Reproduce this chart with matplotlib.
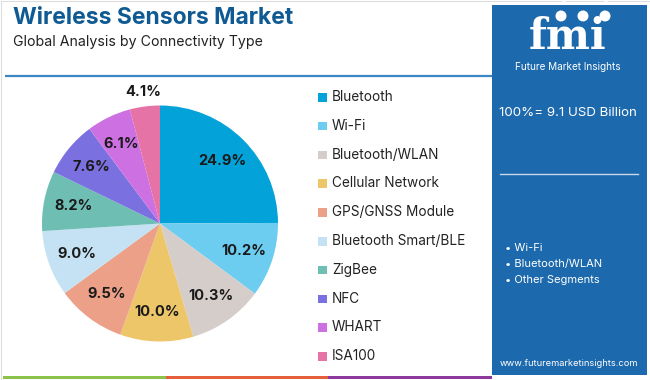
# -*- coding: utf-8 -*-
"""
Wireless Sensors Market - share by connectivity type (pie + side panel)
"""

import numpy as np
import matplotlib.pyplot as plt
from matplotlib.patches import Rectangle, Circle, Arc

# ============================================================
# DATA
# ============================================================

segments = [
    "Bluetooth",
    "Wi-Fi",
    "Bluetooth/WLAN",
    "Cellular Network",
    "GPS/GNSS Module",
    "Bluetooth Smart/BLE",
    "ZigBee",
    "NFC",
    "WHART",
    "ISA100",
]
shares = [24.9, 10.2, 10.3, 10.0, 9.5, 9.0, 8.2, 7.6, 6.1, 4.1]

total_text = "100%= 9.1 USD Billion"
highlights = ["Wi-Fi", "Bluetooth/WLAN", "Other Segments"]

title = "Wireless Sensors Market"
subtitle = "Global Analysis by Connectivity Type"

# ============================================================
# STYLE
# ============================================================

colours = [
    "#03a3da",  # Bluetooth
    "#6dcdf0",  # Wi-Fi
    "#d5cdca",  # Bluetooth/WLAN
    "#eec66a",  # Cellular Network
    "#eba087",  # GPS/GNSS Module
    "#c4e2f3",  # Bluetooth Smart/BLE
    "#6fbeb4",  # ZigBee
    "#7b70e0",  # NFC
    "#cd70e2",  # WHART
    "#e673a6",  # ISA100
]
title_colour = "#0f5a92"
panel_colour = "#1c69ad"
font = ["Inter", "DejaVu Sans"]
plt.rcParams["font.family"] = font

W, H = 650, 380
fig = plt.figure(figsize=(W / 100, H / 100), dpi=100)
fig.patch.set_facecolor("white")

# background axes in pixel coordinates (y downward)
bg = fig.add_axes([0, 0, 1, 1])
bg.set_xlim(0, W)
bg.set_ylim(H, 0)
bg.axis("off")

# outer frame
bg.add_patch(Rectangle((0.5, 0.5), W - 1, H - 1, fill=False,
                       edgecolor="#dddddd", linewidth=0.8))

# title block
bg.text(13, 18, title, fontsize=16.5, fontweight="bold", color=title_colour,
        va="center", ha="left")
bg.text(13, 42, subtitle, fontsize=10.2, color="#222222",
        va="center", ha="left")
bg.plot([5, 492], [75.5, 75.5], color="#3d88c4", linewidth=1.6,
        solid_capstyle="butt")

# bottom colour strip
for x0, x1, c in [(3, 166, "#8bc34a"), (166, 328, "#e5603a"),
                  (328, 492, "#8d3a9c")]:
    bg.add_patch(Rectangle((x0, 375.5), x1 - x0, 3.5, color=c, linewidth=0))

# right panel
bg.add_patch(Rectangle((492, 5), 155, 370, color=panel_colour, linewidth=0))

# fmi logo
bg.text(568, 37, "fmi", fontsize=30, fontweight="bold", color="white",
        family="DejaVu Serif", ha="center", va="center")
for yy in np.arange(22, 58, 3.0):
    bg.plot([515, 622], [yy, yy], color=panel_colour, linewidth=0.8)
for cx in [561, 583, 605]:
    bg.add_patch(Circle((cx, 16), 5.5, color="white", linewidth=0))
bg.add_patch(Arc((585, 10), 62, 24, theta1=200, theta2=340,
                 color="white", linewidth=1.2))
bg.text(568, 67, "Future Market Insights", fontsize=7.2, color="white",
        ha="center", va="center")

bg.text(568, 113, total_text, fontsize=9.6, color="white",
        ha="center", va="center")
bg.plot([500, 638], [174, 174], color="#c9d9ea", linewidth=1.0)

for k, item in enumerate(highlights):
    bg.text(505, 248 + k * 15.8, "\u2022 " + item, fontsize=8.0,
            color="white", ha="left", va="center")

bg.text(569, 364, "www.futuremarketinsights.com", fontsize=6.7,
        color="white", ha="center", va="center")

# legend
for k, (name, c) in enumerate(zip(segments, colours)):
    yy = 97 + k * 28.8
    bg.add_patch(Rectangle((318, yy - 4), 8.5, 8.5, color=c, linewidth=0))
    bg.text(332, yy, name, fontsize=9.8, color="#222222",
            ha="left", va="center")

# ============================================================
# PIE
# ============================================================

cx, cy, r = 160, 223.5, 118
ax = fig.add_axes([(cx - r) / W, (H - cy - r) / H, 2 * r / W, 2 * r / H])
wedges, _ = ax.pie(shares, colors=colours, startangle=90, counterclock=False,
                   radius=1, wedgeprops=dict(linewidth=0))
ax.set_xlim(-1, 1)
ax.set_ylim(-1, 1)
ax.set_aspect("equal")

for w, v in zip(wedges, shares):
    mid = np.deg2rad((w.theta1 + w.theta2) / 2)
    dist = 1.12 if v < 5 else 0.75
    ax.text(dist * np.cos(mid), dist * np.sin(mid), f"{v:.1f}%",
            fontsize=10.5, fontweight="bold", color="#1a1a1a",
            ha="center", va="center", clip_on=False)

fig.savefig("out.png", dpi=100)
